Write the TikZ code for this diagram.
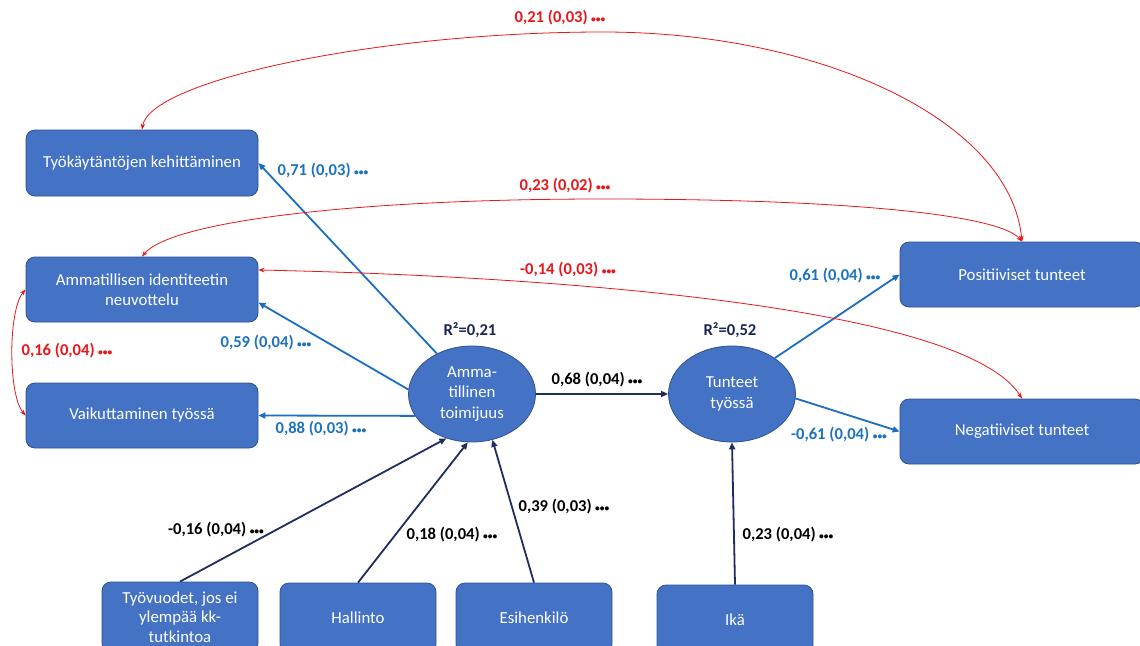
\documentclass[tikz,border=0pt]{standalone}
\usepackage{fontspec}
\setmainfont{Carlito}
\usetikzlibrary{arrows.meta,shapes.geometric,calc}
\definecolor{boxfill}{HTML}{4472C4}
\definecolor{boxline}{HTML}{2F528F}
\definecolor{pathblue}{HTML}{1B6EC2}
\definecolor{labblue}{HTML}{1E73BE}
\definecolor{navy}{HTML}{1F2D63}
\definecolor{rsq}{HTML}{1C2656}
\definecolor{corr}{HTML}{E8171B}
\newcommand{\sigd}{\kern3.5pt{\fontsize{9.5}{9.5}\selectfont •••}}
\begin{document}
\begin{tikzpicture}[x=1pt,y=-1pt,
  box/.style={draw=boxline, line width=0.8pt, fill=boxfill, rounded corners=9pt,
    text=white, align=center, inner sep=0pt, minimum width=156pt, minimum height=70pt,
    font=\fontsize{16.8}{20}\selectfont},
  lat/.style={ellipse, draw=boxline, line width=0.8pt, fill=boxfill, text=white,
    align=center, inner sep=0pt, minimum width=127pt, minimum height=96pt,
    font=\fontsize{16.8}{20.5}\selectfont},
  lab/.style={font=\bfseries\fontsize{16.6}{18}\selectfont, inner sep=0pt},
  pblue/.style={draw=pathblue, line width=1.8pt, -{Triangle[length=7pt,width=6pt]}},
  pnavy/.style={draw=navy, line width=1.8pt, -{Triangle[length=7pt,width=6pt]}},
  corrline/.style={draw=corr, line width=0.8pt,
    {Stealth[length=6pt,width=4.5pt]}-{Stealth[length=6pt,width=4.5pt]}}
]
\path[use as bounding box, fill=white] (0,0) rectangle (1140,645);

% observed boxes
\node[box, minimum width=232pt, minimum height=66pt] (tk) at (142,163) {Työkäytäntöjen kehittäminen};
\node[box, minimum width=232pt, minimum height=65pt] (ai) at (142,289.5) {Ammatillisen identiteetin\\neuvottelu};
\node[box, minimum width=232pt, minimum height=65pt] (vt) at (142,415.5) {Vaikuttaminen työssä};
\node[box, minimum width=244pt, minimum height=65pt] (pt) at (1022,274.5) {Positiiviset tunteet};
\node[box, minimum width=244pt, minimum height=65pt] (nt) at (1022,431.5) {Negatiiviset tunteet};
\node[box, font=\fontsize{16.8}{19.5}\selectfont] (tv) at (180,617) {Työvuodet, jos ei\\ylempää kk-\\tutkintoa};
\node[box] (ha) at (358,618) {Hallinto};
\node[box] (es) at (534,618) {Esihenkilö};
\node[box] (ik) at (735,620) {Ikä};

% latent variables
\node[lat] (A) at (472,394) {Amma-\\tillinen\\toimijuus};
\node[lat] (T) at (732,394) {Tunteet\\työssä};
\node[lab, text=rsq] (rA) at (470,330) {R²=0,21};
\node[lab, text=rsq] (rT) at (730,330) {R²=0,52};

% paths
\draw[pblue] (A.131) -- (tk.east);
\draw[pblue] (A.176) -- ([yshift=-13pt]ai.east);
\draw[pblue] (A.201) -- (vt.east);
\draw[pnavy] (A.east) -- (T.west);
\draw[pblue] (T.40) -- (pt.west);
\draw[pblue] (T.356) -- (nt.west);
\draw[pnavy] (tv.north) -- (A.240);
\draw[pnavy] (ha.north) -- (A.265);
\draw[pnavy] (es.north) -- (A.294);
\draw[pnavy] (ik.north) -- (T.270);

% correlations
\draw[corrline] (tk.north) .. controls (150,80) and (380,32) .. (603,32)
  .. controls (820,32) and (1010,120) .. (pt.north);
\draw[corrline] (ai.north) .. controls (170,222) and (350,199) .. (603,199)
  .. controls (850,199) and (1000,215) .. (pt.north);
\draw[corrline] ([yshift=19.5pt]ai.east) .. controls (500,275) and (960,300) .. (nt.north);
\draw[corrline] (ai.west) .. controls (8,310) and (8,395) .. (vt.west);

% labels
\node[lab, text=corr] (c1) at (560,18) {0,21 (0,03)\sigd};
\node[lab, text=corr] (c2) at (565,186) {0,23 (0,02)\sigd};
\node[lab, text=corr] (c3) at (568,270) {-0,14 (0,03)\sigd};
\node[lab, text=corr] (c4) at (67,351) {0,16 (0,04)\sigd};
\node[lab, text=labblue] (b1) at (323,171) {0,71 (0,03)\sigd};
\node[lab, text=labblue] (b2) at (266,343) {0,59 (0,04)\sigd};
\node[lab, text=labblue] (b3) at (321,429) {0,88 (0,03)\sigd};
\node[lab, text=labblue] (b4) at (835,276) {0,61 (0,04)\sigd};
\node[lab, text=labblue] (b5) at (839,435) {-0,61 (0,04)\sigd};
\node[lab] (k1) at (597,380) {0,68 (0,04)\sigd};
\node[lab] (k2) at (216,530) {-0,16 (0,04)\sigd};
\node[lab] (k3) at (452,535) {0,18 (0,04)\sigd};
\node[lab] (k4) at (564,507) {0,39 (0,03)\sigd};
\node[lab] (k5) at (788,535) {0,23 (0,04)\sigd};
\end{tikzpicture}
\end{document}
